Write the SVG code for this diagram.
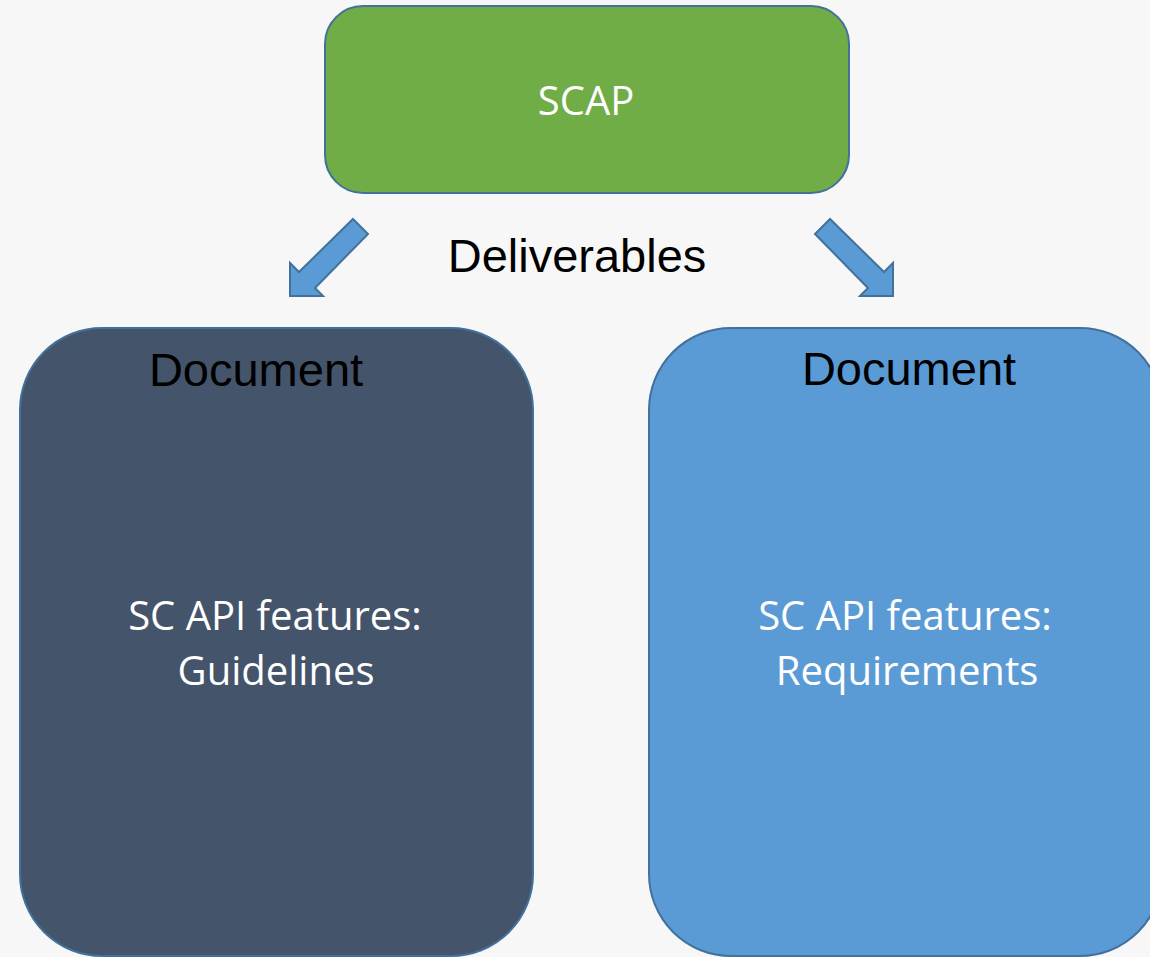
<svg xmlns="http://www.w3.org/2000/svg" width="1150" height="957" viewBox="0 0 1150 957">
  <style>
    .box { stroke: #41719C; stroke-width: 2; }
    .arrow { fill: #5B9BD5; stroke: #41719C; stroke-width: 2; stroke-linejoin: miter; }
    .body { font-family: "Open Sans", "Noto Sans", sans-serif; font-size: 40px; fill: #FFFFFF; text-anchor: middle; }
    .head { font-family: "Liberation Sans", Arial, sans-serif; font-size: 47px; fill: #000000; text-anchor: middle; }
  </style>
  <rect width="1150" height="957" fill="#F7F7F7"/>

  <g id="scap">
    <rect class="box" x="325" y="6" width="524" height="187" rx="38" ry="38" fill="#70AD47"/>
    <text class="body" x="586" y="115">SCAP</text>
  </g>

  <text id="deliverables" class="head" x="577" y="272">Deliverables</text>

  <g id="connectors">
    <polygon class="arrow" points="353,219 368,234 315,288 323,296 290,296 290,263 299,272"/>
    <polygon class="arrow" points="830,219 815,234 868,288 860,296 893,296 893,263 884,272"/>
  </g>

  <g id="guidelines-doc">
    <rect class="box" x="20" y="328" width="513" height="628" rx="82" ry="82" fill="#44546A"/>
    <text class="head" x="256" y="386">Document</text>
    <text class="body" x="275" y="630">SC API features:</text>
    <text class="body" x="276" y="685">Guidelines</text>
  </g>

  <g id="requirements-doc">
    <rect class="box" x="649" y="328" width="513" height="628" rx="82" ry="82" fill="#5B9BD5"/>
    <text class="head" x="909" y="385">Document</text>
    <text class="body" x="905" y="630">SC API features:</text>
    <text class="body" x="907" y="685">Requirements</text>
  </g>
</svg>
